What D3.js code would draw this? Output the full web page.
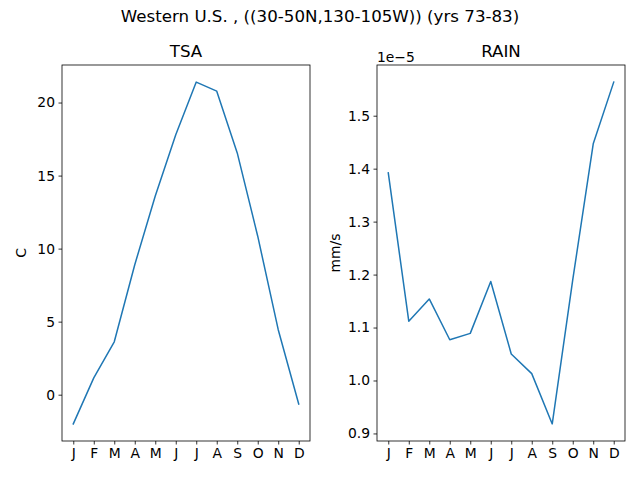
<!DOCTYPE html>
<html>
<head>
<meta charset="utf-8">
<script src="https://cdn.jsdelivr.net/npm/d3@7"></script>
<style>
  html, body { margin: 0; padding: 0; background: #fff; }
  svg { display: block; font-family: "DejaVu Sans", sans-serif; }
</style>
</head>
<body>
<svg id="chart" width="640" height="480"></svg>
<script>
const months = ["J","F","M","A","M","J","J","A","S","O","N","D"];
const tsaValues = [-2.0, 1.15, 3.62, 8.9, 13.6, 17.8, 21.4, 20.78, 16.55, 10.85, 4.45, -0.64];
const rainValues = [1.392e-5, 1.112e-5, 1.154e-5, 1.077e-5, 1.089e-5, 1.187e-5, 1.050e-5, 1.013e-5, 0.918e-5, 1.19e-5, 1.447e-5, 1.5635e-5];
const tsaTicks = [0, 5, 10, 15, 20];
const rainTicks = [0.9e-5, 1.0e-5, 1.1e-5, 1.2e-5, 1.3e-5, 1.4e-5, 1.5e-5];

const svg = d3.select("#chart");
const lineColor = "#1f77b4";

svg.append("text")
  .attr("x", 320).attr("y", 22)
  .attr("text-anchor", "middle")
  .attr("font-size", "16.67px")
  .text("Western U.S. , ((30-50N,130-105W)) (yrs 73-83)");

function panel(cfg) {
  const {x0, x1, y0, y1, values, ticks, fmt, title, ylabel, ylabelX, offsetText} = cfg;
  const n = values.length;
  const xs = d3.scaleLinear().domain([-0.05 * (n - 1), (n - 1) * 1.05]).range([x0, x1]);
  const ext = d3.extent(values);
  const m = (ext[1] - ext[0]) * 0.05;
  const ys = d3.scaleLinear().domain([ext[0] - m, ext[1] + m]).range([y1, y0]);
  const g = svg.append("g");

  // line
  g.append("path")
    .datum(values)
    .attr("fill", "none")
    .attr("stroke", lineColor)
    .attr("stroke-width", 1.5)
    .attr("stroke-linejoin", "round")
    .attr("stroke-linecap", "square")
    .attr("d", d3.line().x((d, i) => xs(i)).y(d => ys(d)));

  // x axis
  const xAxis = d3.axisBottom(xs)
    .tickValues(d3.range(n))
    .tickFormat(i => months[i])
    .tickSize(3.5).tickPadding(3.5);
  const gx = g.append("g").attr("transform", `translate(0,${y1})`).call(xAxis);
  gx.select(".domain").remove();
  gx.selectAll(".tick line").attr("stroke", "#000").attr("stroke-width", 0.8);
  gx.selectAll(".tick text").attr("font-size", "13.89px").attr("fill", "#000")
    .attr("font-family", "DejaVu Sans, sans-serif");

  // y axis
  const yAxis = d3.axisLeft(ys).tickValues(ticks).tickFormat(fmt)
    .tickSize(3.5).tickPadding(3.5);
  const gy = g.append("g").attr("transform", `translate(${x0},0)`).call(yAxis);
  gy.select(".domain").remove();
  gy.selectAll(".tick line").attr("stroke", "#000").attr("stroke-width", 0.8);
  gy.selectAll(".tick text").attr("font-size", "13.89px").attr("fill", "#000")
    .attr("font-family", "DejaVu Sans, sans-serif");

  // frame
  g.append("rect")
    .attr("x", x0).attr("y", y0)
    .attr("width", x1 - x0).attr("height", y1 - y0)
    .attr("fill", "none").attr("stroke", "#000").attr("stroke-width", 0.8);

  // title
  g.append("text")
    .attr("x", (x0 + x1) / 2).attr("y", y0 - 8.3)
    .attr("text-anchor", "middle")
    .attr("font-size", "16.67px")
    .text(title);

  // y label
  g.append("text")
    .attr("transform", `translate(${ylabelX},${(y0 + y1) / 2}) rotate(-90)`)
    .attr("text-anchor", "middle")
    .attr("font-size", "13.89px")
    .text(ylabel);

  if (offsetText) {
    g.append("text")
      .attr("x", x0).attr("y", y0 - 3.5)
      .attr("font-size", "13.89px")
      .text(offsetText);
  }
}

panel({
  x0: 62, x1: 310, y0: 65, y1: 441,
  values: tsaValues, ticks: tsaTicks, fmt: d3.format("d"),
  title: "TSA", ylabel: "C", ylabelX: 26
});

panel({
  x0: 377, x1: 625, y0: 65, y1: 441,
  values: rainValues, ticks: rainTicks, fmt: d => (d * 1e5).toFixed(1),
  title: "RAIN", ylabel: "mm/s", ylabelX: 340, offsetText: "1e\u22125"
});
</script>
</body>
</html>
